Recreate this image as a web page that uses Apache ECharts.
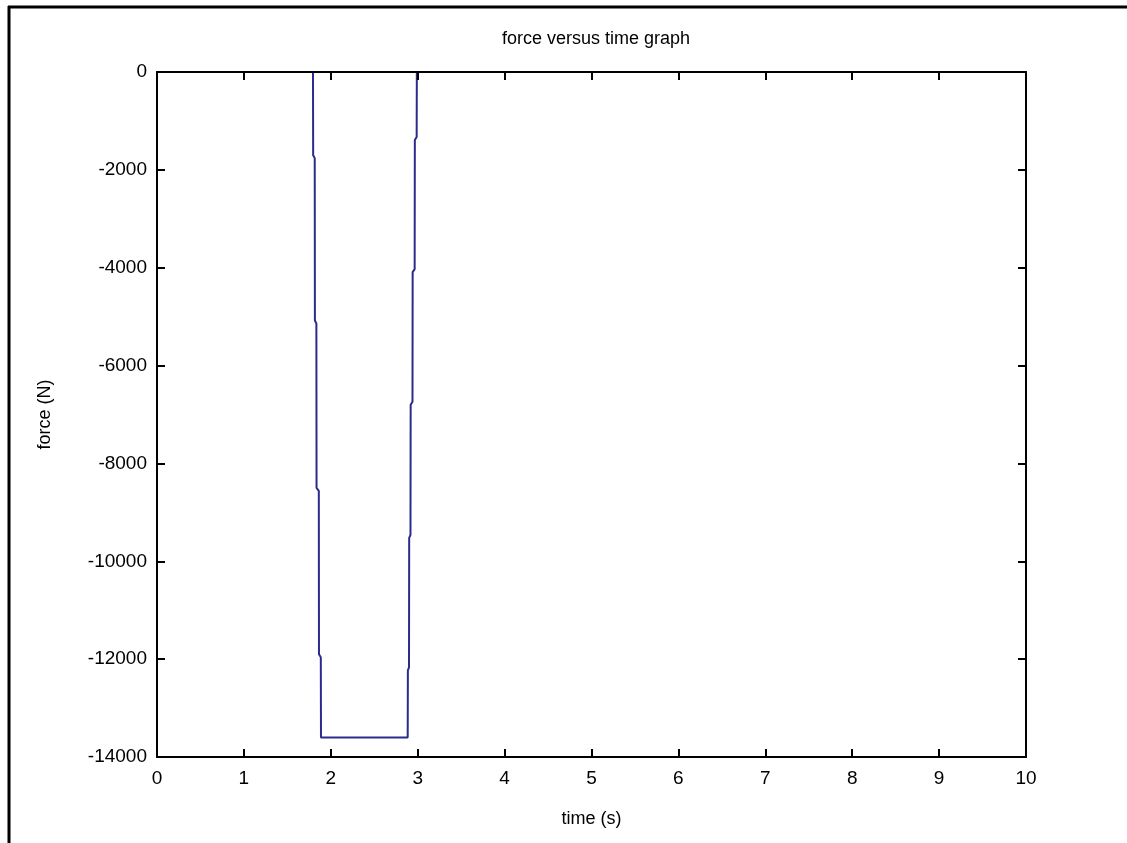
<!DOCTYPE html>
<html>
<head>
<meta charset="utf-8">
<script src="https://cdn.jsdelivr.net/npm/echarts@6/dist/echarts.min.js"></script>
<style>
html, body { margin: 0; padding: 0; background: #fff; }
#force_chart { width: 1127px; height: 843px; }
</style>
</head>
<body>
<div id="force_chart"></div>
<script>
// time (s) and force (N)
var timeValues = [0, 1.795, 1.797, 1.815, 1.817, 1.834, 1.836, 1.862, 1.864, 1.885, 1.887,
    2.885, 2.887, 2.900, 2.902, 2.917, 2.919, 2.940, 2.942, 2.965, 2.967, 2.988, 2.990, 10];
var forceValues = [0, 0, -1700, -1760, -5080, -5140, -8500, -8560, -11900, -11960, -13600,
    -13600, -12230, -12170, -9520, -9460, -6800, -6740, -4090, -4030, -1390, -1330, 0, 0];
var xTicks = [0, 10, 1];
var yTicks = [-14000, 0, 2000];

var lineData = [];
for (var i = 0; i < timeValues.length; i++) {
    lineData.push([timeValues[i], forceValues[i]]);
}

var labelFont = 'Liberation Sans';
var forceChart = echarts.init(document.getElementById('force_chart'));

var forceSeries = {
    name: 'force',
    type: 'line',
    color: '#2b2b8c',
    showSymbol: false,
    animation: false,
    lineStyle: { width: 2 },
    xAxisIndex: 0,
    yAxisIndex: 0,
    data: lineData
};

var forceChartOptions = {
    backgroundColor: '#fff',
    title: {
        text: 'force versus time graph',
        left: 591,
        textAlign: 'center',
        top: 25,
        textStyle: { fontFamily: labelFont, fontSize: 18, fontWeight: 'normal', color: '#000' }
    },
    grid: {
        top: 72,
        bottom: 86,
        left: 157,
        right: 101,
        show: false
    },
    xAxis: [{
        type: 'value',
        position: 'bottom',
        min: xTicks[0],
        max: xTicks[1],
        interval: xTicks[2],
        name: 'time (s)',
        nameLocation: 'middle',
        nameGap: 53,
        nameTextStyle: { fontFamily: labelFont, fontSize: 18, color: '#000' },
        z: 5,
        axisLine: { onZero: false, lineStyle: { color: '#000', width: 2 } },
        axisTick: { inside: true, length: 8, lineStyle: { color: '#000', width: 2 } },
        axisLabel: { fontFamily: labelFont, fontSize: 19, color: '#000', margin: 12 },
        splitLine: { show: false }
    }, {
        type: 'value',
        position: 'top',
        min: xTicks[0],
        max: xTicks[1],
        interval: xTicks[2],
        z: 5,
        axisLine: { onZero: false, lineStyle: { color: '#000', width: 2 } },
        axisTick: { inside: true, length: 8, lineStyle: { color: '#000', width: 2 } },
        axisLabel: { show: false },
        splitLine: { show: false }
    }],
    yAxis: [{
        type: 'value',
        position: 'left',
        min: yTicks[0],
        max: yTicks[1],
        interval: yTicks[2],
        name: 'force (N)',
        nameLocation: 'middle',
        nameGap: 103,
        nameRotate: 90,
        nameTextStyle: { fontFamily: labelFont, fontSize: 18, color: '#000' },
        z: 5,
        axisLine: { onZero: false, lineStyle: { color: '#000', width: 2 } },
        axisTick: { inside: true, length: 8, lineStyle: { color: '#000', width: 2 } },
        axisLabel: {
            fontFamily: labelFont, fontSize: 19, color: '#000', margin: 10,
            formatter: function (value) {
                return String(value);
            }
        },
        splitLine: { show: false }
    }, {
        type: 'value',
        position: 'right',
        min: yTicks[0],
        max: yTicks[1],
        interval: yTicks[2],
        z: 5,
        axisLine: { onZero: false, lineStyle: { color: '#000', width: 2 } },
        axisTick: { inside: true, length: 8, lineStyle: { color: '#000', width: 2 } },
        axisLabel: { show: false },
        splitLine: { show: false }
    }],
    graphic: [{
        type: 'line',
        shape: { x1: 8, y1: 7, x2: 1127, y2: 7 },
        style: { stroke: '#000', lineWidth: 3 }
    }, {
        type: 'line',
        shape: { x1: 9, y1: 6, x2: 9, y2: 843 },
        style: { stroke: '#000', lineWidth: 3 }
    }],
    series: [forceSeries]
};
forceChart.setOption(forceChartOptions);
</script>
</body>
</html>
